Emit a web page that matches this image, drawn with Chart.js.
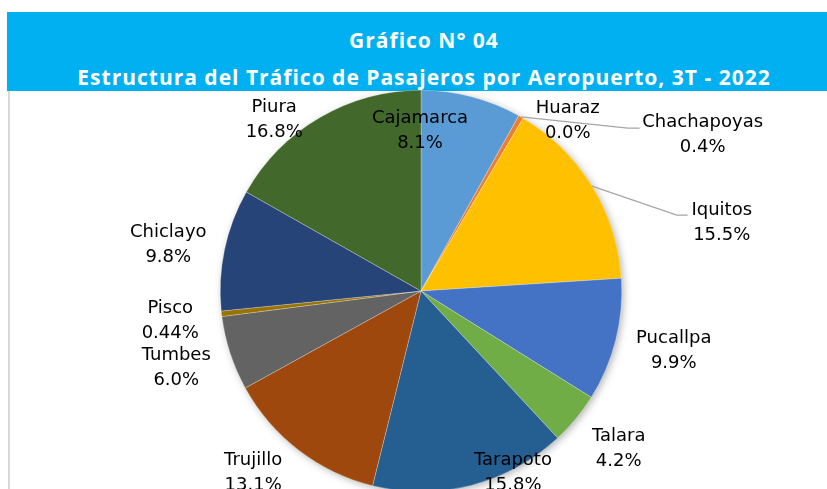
<!DOCTYPE html>
<html>
<head>
<meta charset="utf-8">
<script src="https://cdn.jsdelivr.net/npm/chart.js@4"></script>
<style>
  html, body { margin: 0; padding: 0; background: #fff; overflow: hidden; width: 827px; height: 489px; }
  #banner {
    position: absolute; left: 7px; top: 12px; width: 820px; height: 79px;
    background: #00B0F0; color: #fff; font-family: "Open Sans", sans-serif; font-weight: bold;
    text-align: center; font-size: 21px; line-height: 24px; letter-spacing: 1px;
  }
  #banner .l1 { position: absolute; left: 14px; right: 0; top: 16px; }
  #banner .l2 { position: absolute; left: 14px; right: 0; top: 53px; }
  #frame { position: absolute; left: 8px; top: 91px; width: 2px; height: 400px; background: #d9d9d9; }
  #chart { position: absolute; left: 0; top: 0; }
</style>
</head>
<body>
<div id="banner"><div class="l1">Gráfico N° 04</div><div class="l2">Estructura del Tráfico de Pasajeros por Aeropuerto, 3T - 2022</div></div>
<div id="frame"></div>
<canvas id="chart" width="827" height="520"></canvas>
<script>
const aeropuertos = ['Cajamarca', 'Chachapoyas', 'Huaraz', 'Iquitos', 'Pucallpa', 'Talara', 'Tarapoto', 'Trujillo', 'Tumbes', 'Pisco', 'Chiclayo', 'Piura'];
const participacion = [8.1, 0.4, 0.0, 15.5, 9.9, 4.2, 15.8, 13.1, 6.0, 0.44, 9.8, 16.8];
const etiquetas = ['8.1%', '0.4%', '0.0%', '15.5%', '9.9%', '4.2%', '15.8%', '13.1%', '6.0%', '0.44%', '9.8%', '16.8%'];
const colores = ['#5B9BD5', '#ED7D31', '#A5A5A5', '#FFC000', '#4472C4', '#70AD47', '#255E91', '#9E480E', '#636363', '#997300', '#264478', '#43682B'];

// posicion de cada etiqueta, en radios respecto al centro del pastel
const posEtiqueta = [
  [-0.005, -0.80], [1.403, -0.776], [0.731, -0.85], [1.498, -0.338],
  [1.259, 0.299], [0.985, 0.786], [0.458, 0.906], [-0.836, 0.906],
  [-1.219, 0.383], [-1.249, 0.149], [-1.259, -0.229], [-0.731, -0.851]
];
// lineas guia (codo y final), solo para algunas
const guias = {
  1: [[1.03, -0.811], [1.089, -0.811]],
  3: [[1.274, -0.378], [1.328, -0.378]]
};

const sombraPlugin = {
  id: 'sombra',
  beforeDatasetsDraw(chart) {
    const arc = chart.getDatasetMeta(0).data[0];
    const ctx = chart.ctx;
    ctx.save();
    ctx.shadowColor = 'rgba(0,0,0,0.35)';
    ctx.shadowBlur = 8;
    ctx.shadowOffsetX = 2;
    ctx.shadowOffsetY = 2;
    ctx.fillStyle = '#fff';
    ctx.beginPath();
    ctx.arc(arc.x, arc.y, arc.outerRadius - 1, 0, Math.PI * 2);
    ctx.fill();
    ctx.restore();
  }
};

const etiquetasPlugin = {
  id: 'etiquetas',
  afterDatasetsDraw(chart) {
    const ctx = chart.ctx;
    const arcs = chart.getDatasetMeta(0).data;
    const cx = arcs[0].x, cy = arcs[0].y, r = arcs[0].outerRadius;
    ctx.save();
    ctx.strokeStyle = '#A6A6A6';
    ctx.lineWidth = 1.3;
    Object.keys(guias).forEach(k => {
      const a = arcs[k];
      const mid = (a.startAngle + a.endAngle) / 2;
      const [codo, fin] = guias[k];
      ctx.beginPath();
      ctx.moveTo(cx + Math.cos(mid) * r, cy + Math.sin(mid) * r);
      ctx.lineTo(cx + codo[0] * r, cy + codo[1] * r);
      ctx.lineTo(cx + fin[0] * r, cy + fin[1] * r);
      ctx.stroke();
    });
    ctx.fillStyle = '#000';
    ctx.font = '18px "DejaVu Sans"';
    ctx.textAlign = 'center';
    ctx.textBaseline = 'middle';
    aeropuertos.forEach((n, i) => {
      const x = cx + posEtiqueta[i][0] * r;
      const y = cy + posEtiqueta[i][1] * r;
      ctx.fillText(n, x, y - 12.5);
      ctx.fillText(etiquetas[i], x, y + 12.5);
    });
    ctx.restore();
  }
};

new Chart(document.getElementById('chart'), {
  type: 'pie',
  data: {
    labels: aeropuertos,
    datasets: [{
      data: participacion,
      backgroundColor: colores,
      borderColor: 'rgba(255,255,255,0.5)',
      borderWidth: 0.5
    }]
  },
  options: {
    responsive: false,
    animation: false,
    layout: { padding: { top: 90, bottom: 28, left: 220, right: 205 } },
    plugins: { legend: { display: false }, tooltip: { enabled: false }, title: { display: false } }
  },
  plugins: [sombraPlugin, etiquetasPlugin]
});
</script>
</body>
</html>
